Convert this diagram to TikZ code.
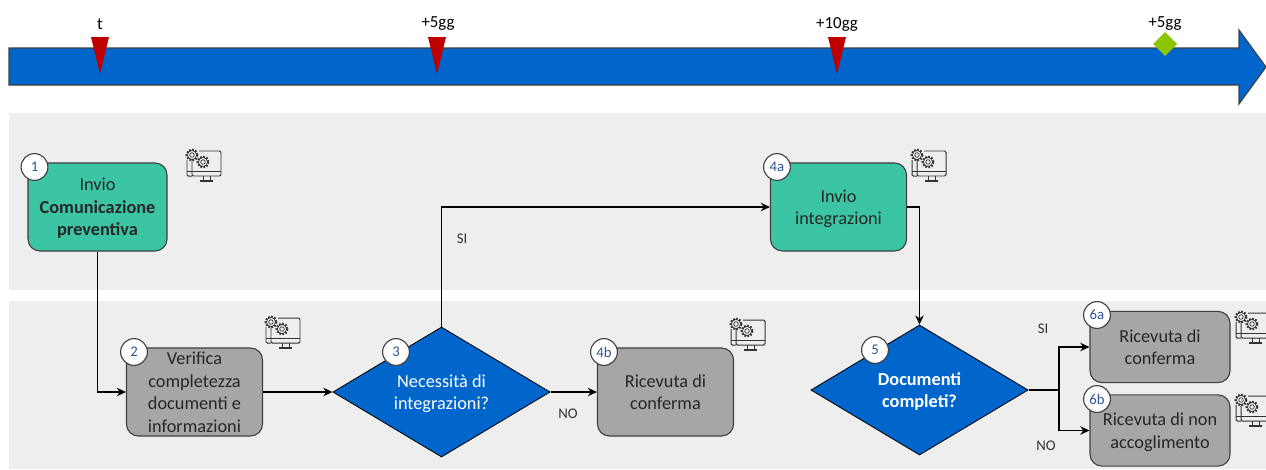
\documentclass[tikz,border=0pt]{standalone}
\usepackage{fontspec}
\usepackage[dvipsnames]{xcolor}
\setmainfont{Carlito}
\usetikzlibrary{shapes.geometric,arrows.meta}
\definecolor{bandgray}{HTML}{EEEEEE}
\definecolor{flowblue}{HTML}{0066CC}
\definecolor{stepgreen}{HTML}{3CC5A3}
\definecolor{stepgray}{HTML}{A6A6A6}
\definecolor{edgegray}{HTML}{404040}
\definecolor{markred}{HTML}{C00000}
\definecolor{markgreen}{HTML}{8CC600}
\definecolor{badgeblue}{HTML}{2F5597}
\tikzset{
    gear/.pic={
        \draw[black!80,line width=0.5pt,fill=bandgray] (0,0) circle (4.6);
        \draw[black!80,line width=1.3pt,dash pattern=on 1.2pt off 1.1pt] (0,0) circle (5.6);
        \draw[black!80,line width=0.5pt] (0,0) circle (2.3);
    },
    sysicon/.pic={
        \draw[black!80,line width=0.7pt,rounded corners=1pt] (6,0) rectangle (35,25);
        \draw[black!80,line width=0.7pt] (0.5,20) -- (35,20) (17,25) -- (17,29.5) (24,25) -- (24,29.5);
        \draw[black!80,line width=0.9pt] (14,30) -- (27,30);
        \fill[bandgray] (0,-3) rectangle (13,9);
        \draw[black!80,line width=0.7pt] (1,9) -- (1,24) to[out=-90,in=180] (6,25);
        \pic at (6,4) {gear};
        \pic at (17,11) {gear};
    }
}
\begin{document}
\begin{tikzpicture}[x=0.025cm,y=-0.025cm,>={Stealth[length=6.5pt,width=6pt]},thick,
    step node/.style={rectangle,rounded corners=0.3cm,draw=edgegray,line width=0.8pt,text=black!85,align=center,font=\fontsize{13}{16}\selectfont,minimum width=3.4cm,minimum height=2.2cm,inner sep=0pt,text depth=-1.5pt},
    green node/.style={step node,fill=stepgreen},
    gray node/.style={step node,fill=stepgray},
    small node/.style={gray node,minimum width=3.5cm,minimum height=1.78cm},
    test node/.style={diamond,aspect=1.67,draw=black,line width=0.6pt,fill=flowblue,text=white,align=center,font=\fontsize{13}{16}\selectfont,minimum width=5.43cm,minimum height=3.25cm,inner sep=0pt,text depth=-1.5pt},
    badge node/.style={circle,draw=edgegray,line width=0.8pt,fill=white,text=badgeblue,font=\fontsize{10.5}{11}\selectfont,minimum size=0.67cm,inner sep=0pt},
    label node/.style={text=black!80,font=\fontsize{10.5}{12}\selectfont,inner sep=0pt},
    time node/.style={text=black,font=\fontsize{12}{14}\selectfont,inner sep=0pt},
    flow/.style={->,black,line width=0.8pt}]

    \clip (0,0) rectangle (1266,469);
    \useasboundingbox (0,0) rectangle (1266,469);

    % bands
    \fill[bandgray] (9,113) rectangle (1266,290);
    \fill[bandgray] (9,301) rectangle (1266,469);

    % timeline
    \draw[edgegray,line width=0.8pt,fill=flowblue] (9,48) -- (1239,48) -- (1239,30) -- (1266,67) -- (1239,104) -- (1239,85) -- (9,85) -- cycle;
    \node[time node] (t0) at (100,24) {t};
    \node[time node] (t1) at (438,24) {+5gg};
    \node[time node] (t2) at (837,24) {+10gg};
    \node[time node] (t3) at (1165,24) {+5gg};
    \fill[markred] (91,37) -- (109,37) -- (100,74) -- cycle;
    \fill[markred] (428,37) -- (446,37) -- (437,74) -- cycle;
    \fill[markred] (828,37) -- (846,37) -- (837,74) -- cycle;
    \fill[markgreen] (1165,32) -- (1177,44) -- (1165,56) -- (1153,44) -- cycle;

    % steps
    \node[green node,minimum width=3.475cm] (1) at (97.5,207) {Invio\\\textbf{Comunicazione}\\\textbf{preventiva}};
    \node[green node] (4a) at (838.5,207) {Invio\\integrazioni};
    \node[gray node] (2) at (194.5,392) {Verifica\\completezza\\documenti e\\informazioni};
    \node[gray node] (4b) at (665.5,392) {Ricevuta di\\conferma};
    \node[test node] (3) at (441.5,392) {Necessità di\\integrazioni?};
    \node[test node] (5) at (919.5,390) {\textbf{Documenti}\\\textbf{completi?}};
    \node[small node] (6a) at (1160,347) {Ricevuta di\\conferma};
    \node[small node] (6b) at (1160,430.5) {Ricevuta di non\\accoglimento};
    \coordinate (split) at (1059,390);

    % connectors
    \draw[flow] (1) |- (2);
    \draw[flow] (3) |- (4a);
    \draw[flow] (4a) -| (5);
    \path[flow] (2) edge (3) (3) edge (4b);
    \draw[black,line width=0.8pt] (5) -- (split);
    \draw[flow] (split) |- (6a);
    \draw[flow] (split) |- (6b);

    % labels
    \node[label node] (si3) at (462,239) {SI};
    \node[label node] (no3) at (568,414) {NO};
    \node[label node] (si5) at (1043,329) {SI};
    \node[label node] (no5) at (1046,446) {NO};

    % badges
    \node[badge node] (b1) at (34.5,167) {1};
    \node[badge node] (b2) at (134,352) {2};
    \node[badge node] (b3) at (396,352) {3};
    \node[badge node] (b4a) at (777,167) {4a};
    \node[badge node] (b4b) at (604,352) {4b};
    \node[badge node] (b5) at (875,350) {5};
    \node[badge node] (b6a) at (1097,315) {6a};
    \node[badge node] (b6b) at (1097,399) {6b};

    % icons
    \pic at (186,151) {sysicon};
    \pic at (265,318) {sysicon};
    \pic at (730,320) {sysicon};
    \pic at (911,151) {sysicon};
    \pic at (1235,313) {sysicon};
    \pic at (1235,396) {sysicon};
\end{tikzpicture}
\end{document}
